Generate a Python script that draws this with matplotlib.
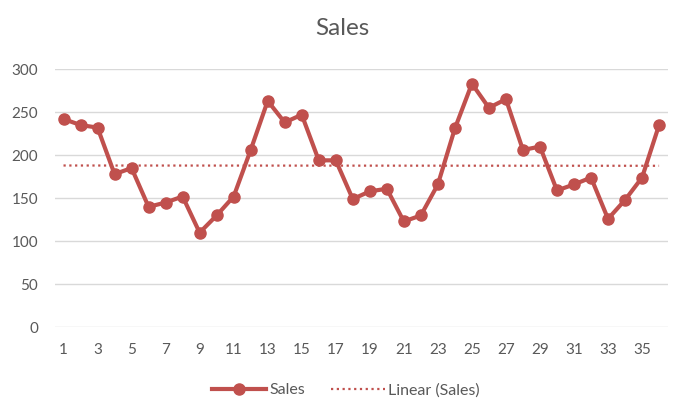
import matplotlib
matplotlib.use("Agg")
import matplotlib.pyplot as plt
import numpy as np

periods = list(range(1, 37))
sales = [242, 235, 232, 178, 185, 140, 145, 152, 110, 130, 152, 206,
         263, 238, 247, 194, 194, 149, 158, 161, 123, 130, 166, 231,
         283, 255, 265, 206, 210, 159, 166, 174, 126, 148, 174, 235]
xtick_labels = [str(p) for p in periods[::2]]
yticks = [0, 50, 100, 150, 200, 250, 300]

plt.rcParams['font.family'] = ['Lato', 'DejaVu Sans']
red = '#C0504D'
gray = '#595959'

fig = plt.figure(figsize=(6.84, 4.16), dpi=100)
ax = fig.add_axes([0.0804, 0.213, 0.8956, 0.621])

x = np.array(periods)
y = np.array(sales)
coef = np.polyfit(x, y, 1)
trend = np.polyval(coef, x)

ax.plot(x, y, color=red, lw=3, marker='o', ms=8, label='Sales', zorder=3)
ax.plot(x, trend, color=red, lw=1.6, linestyle=(0, (1, 1.6)), label='Linear (Sales)', zorder=2)

ax.set_xlim(0.5, 36.5)
ax.set_ylim(0, 300)
ax.set_yticks(yticks)
ax.set_xticks(periods[::2])
ax.set_xticklabels(xtick_labels)
ax.grid(axis='y', color='#D9D9D9', lw=1)
ax.set_axisbelow(True)
for s in ax.spines.values():
    s.set_visible(False)
ax.tick_params(axis='both', length=0, labelsize=11, colors=gray)
ax.tick_params(axis='x', pad=11)
ax.tick_params(axis='y', pad=12)

fig.text(0.5, 0.932, 'Sales', ha='center', va='center', fontsize=17.5, color=gray)

leg = fig.legend(loc='center', bbox_to_anchor=(0.506, 0.062), ncol=2, frameon=False,
                 fontsize=11.5, handlelength=3.4, columnspacing=1.6, handletextpad=0.2)
for t in leg.get_texts():
    t.set_color(gray)

fig.savefig('out.png', dpi=100)
